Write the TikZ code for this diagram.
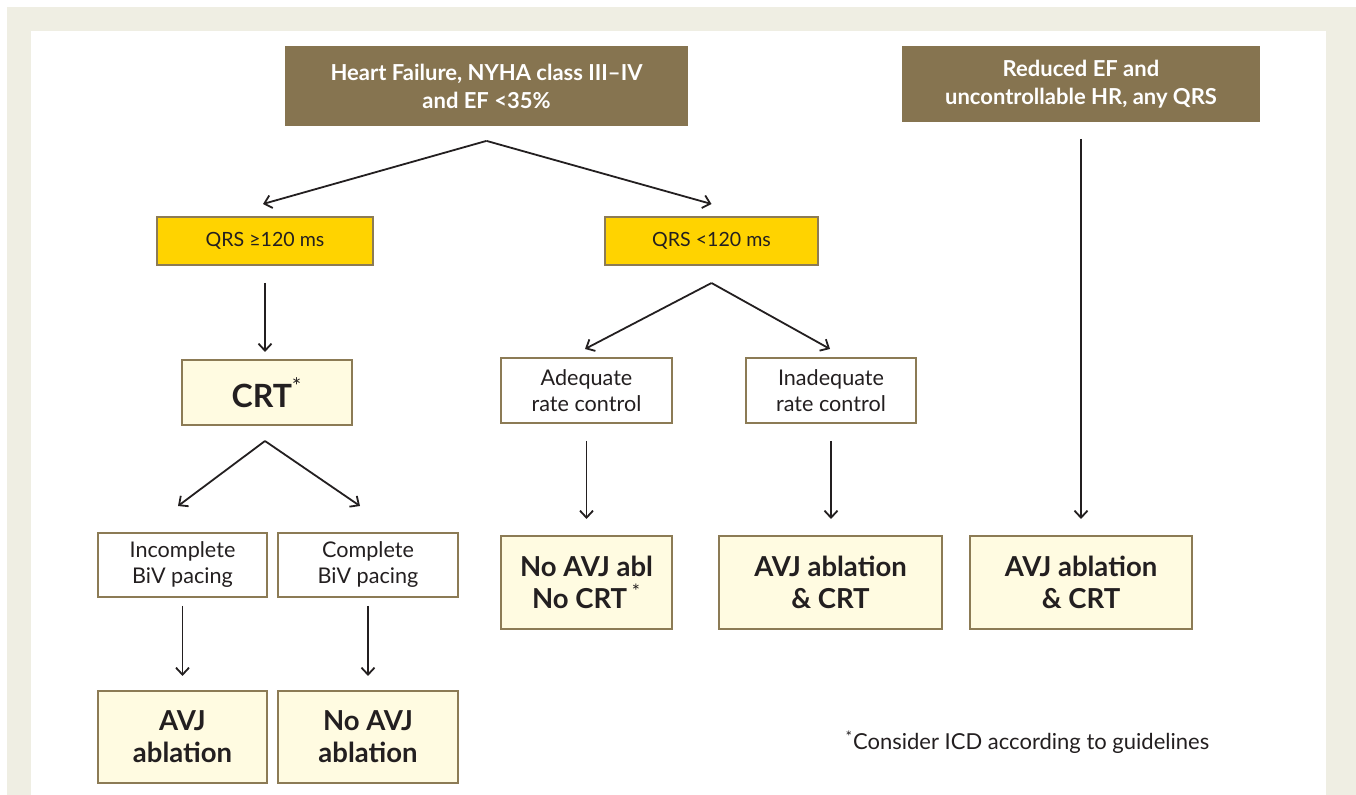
\documentclass[tikz,border=0pt]{standalone}
\usepackage{fontspec}
\setmainfont{Lato}
\usetikzlibrary{arrows.meta}
\definecolor{hfbrown}{HTML}{867450}
\definecolor{qrsyellow}{HTML}{FFD300}
\definecolor{resyellow}{HTML}{FFFBE1}
\definecolor{edgebrown}{HTML}{8C7B55}
\definecolor{framebeige}{HTML}{EFEEE3}
\definecolor{inkgrey}{HTML}{231F20}
\tikzset{
  headbox/.style={fill=hfbrown,text=white,font=\fontsize{11}{14}\selectfont\bfseries,align=center,inner sep=0pt},
  qrsbox/.style={fill=qrsyellow,draw=edgebrown,line width=1pt,text=inkgrey,font=\fontsize{9.8}{11}\selectfont,minimum height=24pt,inner sep=0pt},
  choicebox/.style={fill=white,draw=edgebrown,line width=1pt,text=inkgrey,font=\fontsize{10.8}{13}\selectfont,align=center,minimum height=32.5pt,inner sep=0pt},
  resultbox/.style={fill=resyellow,draw=edgebrown,line width=1pt,text=inkgrey,font=\fontsize{13.75}{16}\selectfont\bfseries,align=center,minimum height=46.5pt,inner sep=0pt},
}
\begin{document}
\begin{tikzpicture}[x=0.5pt,y=-0.5pt,line width=0.9pt,>={Straight Barb[length=3.5pt,width=6.5pt]}]
\fill[white](0,0)rectangle(1356,795);
\fill[framebeige](7,7)rectangle(1356,795);
\fill[white](31,31)rectangle(1326,795);
% top row
\node[headbox,minimum width=201.5pt,minimum height=40pt](hf)at(486.5,86){Heart Failure, NYHA class III--IV\\and EF <35\%};
\node[headbox,minimum width=179pt,minimum height=38pt](ref)at(1081,84){Reduced EF and\\uncontrollable HR, any QRS};
% QRS width
\node[qrsbox,minimum width=108pt](qa)at(265,241){QRS ≥120 ms};
\node[qrsbox,minimum width=106.5pt](qb)at(711.5,241){QRS <120 ms};
% second level
\node[resultbox,minimum width=85pt,minimum height=32.5pt,font=\fontsize{16}{18}\selectfont\bfseries](crt)at(267,392.5){CRT\textsuperscript{\mdseries*}};
\node[choicebox,minimum width=85.5pt](adq)at(586.5,390.5){Adequate\\rate control};
\node[choicebox,minimum width=85pt](inadq)at(831,390.5){Inadequate\\rate control};
\node[choicebox,minimum width=84.5pt,minimum height=32pt](inc)at(182.5,565){Incomplete\\BiV pacing};
\node[choicebox,minimum width=90pt,minimum height=32pt](cmp)at(368,565){Complete\\BiV pacing};
% results
\node[resultbox,minimum width=85.5pt](noabl)at(586.5,582.5){No AVJ abl\\No CRT\,\textsuperscript{\mdseries*}};
\node[resultbox,minimum width=111.5pt](avjm)at(830.5,582.5){AVJ ablation\\\& CRT};
\node[resultbox,minimum width=111pt](avjr)at(1081,582.5){AVJ ablation\\\& CRT};
\node[resultbox,minimum width=84.5pt,minimum height=46pt](avjl)at(182.5,737){AVJ\\ablation};
\node[resultbox,minimum width=90pt,minimum height=46pt](noavj)at(368,737){No AVJ\\ablation};
\node[anchor=base west,text=inkgrey,font=\fontsize{11}{13}\selectfont](note)at(838,750){\textsuperscript{*}Consider ICD according to guidelines};
% arrows
\draw[->,inkgrey]([yshift=-7pt]hf.south)--([yshift=6pt,xshift=-1pt]qa.north);
\draw[->,inkgrey]([yshift=-7pt]hf.south)--([yshift=6pt]qb.north);
\draw[->,inkgrey]([yshift=-8.5pt]qa.south)--([yshift=3.5pt]qa.south|-crt.north);
\draw[->,inkgrey]([yshift=-8.5pt]qb.south)--([yshift=4pt,xshift=-0.75pt]adq.north);
\draw[->,inkgrey]([yshift=-8.5pt]qb.south)--([yshift=4pt,xshift=-0.5pt]inadq.north);
\draw[->,inkgrey]([yshift=-7.5pt,xshift=-1pt]crt.south)--([yshift=13pt,xshift=-2.25pt]inc.north);
\draw[->,inkgrey]([yshift=-7.5pt,xshift=-1pt]crt.south)--([yshift=13pt,xshift=-4pt]cmp.north);
\draw[->,inkgrey]([yshift=-8.5pt]adq.south)--([yshift=8pt]adq.south|-noabl.north);
\draw[->,inkgrey]([yshift=-8.5pt]inadq.south)--([yshift=8pt]inadq.south|-avjm.north);
\draw[->,inkgrey]([yshift=-4pt]inc.south)--([yshift=7pt]inc.south|-avjl.north);
\draw[->,inkgrey]([yshift=-4pt]cmp.south)--([yshift=7pt]cmp.south|-noavj.north);
\draw[->,inkgrey]([yshift=-8pt]ref.south)--([yshift=8pt]avjr.north);
\end{tikzpicture}
\end{document}
